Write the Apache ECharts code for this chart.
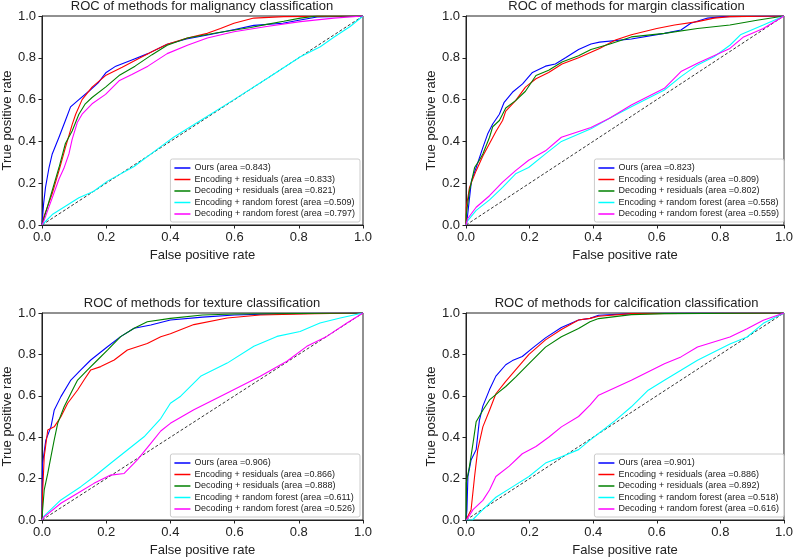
<!DOCTYPE html>
<html><head><meta charset="utf-8">
<script src="https://cdn.jsdelivr.net/npm/echarts@6/dist/echarts.min.js"></script>
<style>html,body{margin:0;padding:0;background:#fff}#c{width:796px;height:560px}</style>
</head><body><div id="c"></div>
<script>
// ---------- data ----------
const titles = [
  "ROC of methods for malignancy classification",
  "ROC of methods for margin classification",
  "ROC of methods for texture classification",
  "ROC of methods for calcification classification"
];
const methodNames = ["Ours", "Encoding + residuals", "Decoding + residuals", "Encoding + random forest", "Decoding + random forest"];
const aucMalignancy = ["0.843", "0.833", "0.821", "0.509", "0.797"];
const aucMargin = ["0.823", "0.809", "0.802", "0.558", "0.559"];
const aucTexture = ["0.906", "0.866", "0.888", "0.611", "0.526"];
const aucCalcification = ["0.901", "0.886", "0.892", "0.518", "0.616"];
const xTicks = [0, 0.2, 0.4, 0.6, 0.8, 1.0];
const chanceLine = [[0, 0], [1, 1]];

// malignancy
const malOurs = [[0,0],[0.005,0.10],[0.011,0.18],[0.022,0.275],[0.032,0.34],[0.053,0.42],[0.073,0.50],[0.089,0.565],[0.115,0.60],[0.146,0.64],[0.175,0.68],[0.2,0.73],[0.23,0.76],[0.28,0.79],[0.33,0.82],[0.39,0.865],[0.45,0.89],[0.52,0.91],[0.6,0.935],[0.66,0.955],[0.75,0.965],[0.8,0.98],[0.857,0.995],[1,1]];
const malEncRes = [[0,0],[0.006,0.04],[0.032,0.15],[0.053,0.26],[0.073,0.37],[0.094,0.48],[0.105,0.53],[0.125,0.60],[0.156,0.66],[0.198,0.715],[0.25,0.755],[0.30,0.795],[0.35,0.835],[0.39,0.865],[0.453,0.895],[0.515,0.917],[0.556,0.94],[0.598,0.965],[0.66,0.99],[0.753,0.997],[1,1]];
const malDecRes = [[0,0],[0.006,0.03],[0.032,0.165],[0.053,0.275],[0.073,0.39],[0.094,0.45],[0.115,0.53],[0.135,0.58],[0.156,0.61],[0.198,0.66],[0.24,0.715],[0.29,0.76],[0.343,0.815],[0.39,0.86],[0.453,0.895],[0.546,0.92],[0.65,0.945],[0.70,0.96],[0.753,0.975],[0.805,0.99],[0.857,1.0],[1,1]];
const malEncRF = [[0,0],[0.032,0.05],[0.073,0.09],[0.115,0.13],[0.16,0.16],[0.204,0.21],[0.287,0.28],[0.37,0.375],[0.41,0.42],[0.494,0.50],[0.598,0.60],[0.70,0.70],[0.805,0.805],[0.867,0.853],[0.909,0.898],[0.96,0.95],[1,1]];
const malDecRF = [[0,0],[0.006,0.02],[0.032,0.13],[0.053,0.22],[0.068,0.27],[0.084,0.34],[0.094,0.41],[0.11,0.49],[0.125,0.53],[0.156,0.58],[0.198,0.625],[0.24,0.69],[0.28,0.72],[0.33,0.76],[0.39,0.82],[0.453,0.86],[0.515,0.895],[0.598,0.925],[0.70,0.95],[0.805,0.973],[0.909,0.99],[1,1]];

// margin
const marOurs = [[0,0],[0.003,0.02],[0.017,0.21],[0.032,0.275],[0.053,0.37],[0.068,0.435],[0.084,0.483],[0.105,0.53],[0.12,0.587],[0.146,0.635],[0.178,0.675],[0.209,0.73],[0.25,0.76],[0.281,0.77],[0.313,0.80],[0.354,0.84],[0.393,0.866],[0.42,0.875],[0.52,0.89],[0.624,0.917],[0.676,0.933],[0.707,0.965],[0.76,0.99],[0.81,0.997],[1,1]];
const marEncRes = [[0,0],[0.001,0.085],[0.011,0.18],[0.032,0.26],[0.053,0.33],[0.074,0.39],[0.095,0.45],[0.115,0.50],[0.125,0.545],[0.156,0.595],[0.187,0.66],[0.22,0.70],[0.26,0.73],[0.302,0.77],[0.354,0.80],[0.393,0.826],[0.42,0.845],[0.47,0.885],[0.52,0.91],[0.6,0.94],[0.656,0.957],[0.728,0.973],[0.78,0.99],[0.83,0.997],[1,1]];
const marDecRes = [[0,0],[0.001,0.05],[0.011,0.165],[0.027,0.275],[0.042,0.31],[0.053,0.34],[0.074,0.42],[0.084,0.47],[0.105,0.50],[0.125,0.56],[0.156,0.595],[0.187,0.64],[0.22,0.715],[0.26,0.74],[0.302,0.78],[0.354,0.81],[0.393,0.84],[0.45,0.865],[0.52,0.90],[0.624,0.917],[0.728,0.94],[0.83,0.957],[0.915,0.98],[1,1]];
const marEncRF = [[0,0],[0.005,0.02],[0.032,0.07],[0.074,0.12],[0.115,0.18],[0.156,0.245],[0.197,0.275],[0.25,0.34],[0.30,0.40],[0.393,0.46],[0.45,0.51],[0.52,0.566],[0.624,0.646],[0.676,0.71],[0.728,0.766],[0.78,0.805],[0.83,0.86],[0.863,0.91],[0.935,0.957],[1,1]];
const marDecRF = [[0,0],[0.005,0.03],[0.032,0.085],[0.074,0.14],[0.115,0.205],[0.156,0.26],[0.197,0.31],[0.25,0.355],[0.30,0.42],[0.393,0.467],[0.45,0.51],[0.52,0.574],[0.624,0.654],[0.676,0.734],[0.728,0.774],[0.83,0.845],[0.873,0.90],[0.935,0.94],[1,1]];

// texture
const texOurs = [[0,0],[0.001,0.2],[0.002,0.274],[0.012,0.386],[0.028,0.45],[0.038,0.53],[0.059,0.596],[0.09,0.676],[0.121,0.725],[0.152,0.773],[0.204,0.837],[0.245,0.886],[0.287,0.926],[0.339,0.942],[0.40,0.966],[0.5,0.98],[0.6,0.99],[0.75,0.997],[1,1]];
const texEncRes = [[0,0],[0.002,0.13],[0.007,0.306],[0.018,0.435],[0.038,0.45],[0.059,0.499],[0.08,0.564],[0.111,0.628],[0.131,0.676],[0.152,0.725],[0.183,0.741],[0.225,0.773],[0.266,0.821],[0.328,0.853],[0.37,0.885],[0.40,0.90],[0.473,0.944],[0.577,0.976],[0.68,0.99],[0.85,0.997],[1,1]];
const texDecRes = [[0,0],[0.002,0.05],[0.007,0.145],[0.018,0.225],[0.028,0.306],[0.038,0.386],[0.049,0.467],[0.069,0.547],[0.09,0.612],[0.111,0.676],[0.142,0.725],[0.173,0.773],[0.204,0.821],[0.245,0.886],[0.287,0.926],[0.328,0.958],[0.40,0.974],[0.5,0.99],[0.6,0.995],[1,1]];
const texEncRF = [[0,0],[0.007,0.02],[0.059,0.097],[0.121,0.161],[0.162,0.209],[0.214,0.274],[0.266,0.338],[0.318,0.402],[0.37,0.49],[0.40,0.564],[0.432,0.598],[0.494,0.694],[0.577,0.758],[0.66,0.839],[0.732,0.887],[0.804,0.911],[0.866,0.952],[0.929,0.976],[1,1]];
const texDecRF = [[0,0],[0.007,0.015],[0.059,0.081],[0.111,0.129],[0.162,0.177],[0.214,0.217],[0.256,0.225],[0.297,0.29],[0.339,0.37],[0.37,0.43],[0.40,0.467],[0.473,0.533],[0.577,0.614],[0.68,0.694],[0.763,0.767],[0.825,0.839],[0.887,0.887],[0.95,0.952],[1,1]];

// calcification
const calOurs = [[0,0],[0.003,0.05],[0.006,0.21],[0.016,0.29],[0.032,0.34],[0.042,0.48],[0.053,0.55],[0.074,0.63],[0.094,0.695],[0.125,0.75],[0.146,0.77],[0.177,0.79],[0.209,0.83],[0.25,0.88],[0.30,0.93],[0.354,0.966],[0.39,0.974],[0.417,0.989],[0.52,0.997],[0.7,1],[1,1]];
const calEncRes = [[0,0],[0.006,0],[0.016,0.05],[0.027,0.21],[0.037,0.34],[0.053,0.45],[0.074,0.53],[0.094,0.61],[0.125,0.67],[0.156,0.725],[0.198,0.80],[0.25,0.87],[0.30,0.92],[0.354,0.966],[0.39,0.974],[0.417,0.984],[0.52,0.997],[1,1]];
const calDecRes = [[0,0],[0.001,0.18],[0.011,0.26],[0.022,0.37],[0.032,0.475],[0.053,0.53],[0.074,0.58],[0.105,0.62],[0.125,0.645],[0.156,0.69],[0.198,0.755],[0.25,0.835],[0.30,0.885],[0.354,0.925],[0.39,0.958],[0.417,0.973],[0.52,0.992],[0.624,0.997],[1,1]];
const calEncRF = [[0,0],[0.02,0],[0.053,0.05],[0.094,0.11],[0.146,0.16],[0.198,0.21],[0.25,0.275],[0.30,0.305],[0.354,0.34],[0.39,0.386],[0.417,0.418],[0.469,0.48],[0.52,0.547],[0.573,0.627],[0.624,0.675],[0.676,0.723],[0.728,0.772],[0.83,0.85],[0.884,0.884],[0.935,0.95],[1,1]];
const calDecRF = [[0,0],[0.006,0.01],[0.022,0.05],[0.053,0.095],[0.074,0.145],[0.094,0.21],[0.136,0.26],[0.177,0.32],[0.22,0.355],[0.26,0.40],[0.30,0.45],[0.354,0.50],[0.39,0.555],[0.417,0.603],[0.52,0.675],[0.624,0.755],[0.676,0.788],[0.728,0.836],[0.83,0.884],[0.884,0.924],[0.935,0.965],[1,1]];

// ---------- build ----------
const panels = [
  {auc: aucMalignancy, curves: [malOurs, malEncRes, malDecRes, malEncRF, malDecRF]},
  {auc: aucMargin, curves: [marOurs, marEncRes, marDecRes, marEncRF, marDecRF]},
  {auc: aucTexture, curves: [texOurs, texEncRes, texDecRes, texEncRF, texDecRF]},
  {auc: aucCalcification, curves: [calOurs, calEncRes, calDecRes, calEncRF, calDecRF]}
];
const colors = ["#0000ff", "#ff0000", "#008000", "#00ffff", "#ff00ff"];
const FONT = "Liberation Sans";
const grids = [
  {left: 41, top: 16, width: 322, height: 209},
  {left: 466, top: 16, width: 321, height: 209},
  {left: 41, top: 313, width: 322, height: 207},
  {left: 466, top: 313, width: 321, height: 207}
];
const option = {
  animation: false,
  backgroundColor: "#fff",
  title: [], grid: [], xAxis: [], yAxis: [], legend: [], series: []
};
grids.forEach((g, i) => {
  option.grid.push(Object.assign({show: true, borderColor: "#222", borderWidth: 1, backgroundColor: "transparent"}, g));
  option.title.push({
    text: titles[i], left: g.left + g.width / 2, textAlign: "center",
    top: g.top - 16, padding: 0,
    textStyle: {fontFamily: FONT, fontSize: 13, fontWeight: "normal", color: "#222"}
  });
  const axisCommon = {
    type: "value", min: 0, max: 1, interval: 0.2, gridIndex: i,
    splitLine: {show: false},
    axisLine: {show: true, lineStyle: {color: "#222", width: 1}},
    axisTick: {show: true, length: 3.5, lineStyle: {color: "#222"}},
    axisLabel: {fontFamily: FONT, fontSize: 13, color: "#222", margin: 6, formatter: v => v.toFixed(1)},
    nameLocation: "middle",
    nameTextStyle: {fontFamily: FONT, fontSize: 13, color: "#222"}
  };
  option.xAxis.push(Object.assign({}, axisCommon, {name: "False positive rate", nameGap: 24}));
  option.yAxis.push(Object.assign({}, axisCommon, {name: "True positive rate", nameGap: 27}));
  const p = panels[i];
  const names = methodNames.map((m, k) => m + " (area =" + p.auc[k] + ")");
  p.curves.forEach((c, k) => {
    option.series.push({
      type: "line", name: names[k], xAxisIndex: i, yAxisIndex: i, data: c,
      showSymbol: false, symbol: "none", smooth: false,
      lineStyle: {color: colors[k], width: 1.1}, itemStyle: {color: colors[k]}, z: 3
    });
  });
  option.series.push({
    type: "line", name: "chance" + i, xAxisIndex: i, yAxisIndex: i, data: chanceLine,
    showSymbol: false, symbol: "none",
    lineStyle: {color: "#000", width: 0.8, type: [3, 2]}, z: 2
  });
  option.legend.push({
    data: names, orient: "vertical",
    right: 796 - (g.left + g.width) + 3, bottom: 560 - (g.top + g.height) + 3,
    icon: "rect", itemWidth: 16, itemHeight: 1.5, itemGap: 1.5,
    padding: [4, 5, 3, 4],
    borderColor: "#cccccc", borderWidth: 1, borderRadius: 2,
    backgroundColor: "rgba(255,255,255,0.85)",
    selectedMode: false,
    textStyle: {fontFamily: FONT, fontSize: 9, color: "#222", lineHeight: 10, padding: [0, 0, 0, -1]}
  });
});
const chart = echarts.init(document.getElementById("c"), null, {renderer: "canvas"});
chart.setOption(option);
</script></body></html>
